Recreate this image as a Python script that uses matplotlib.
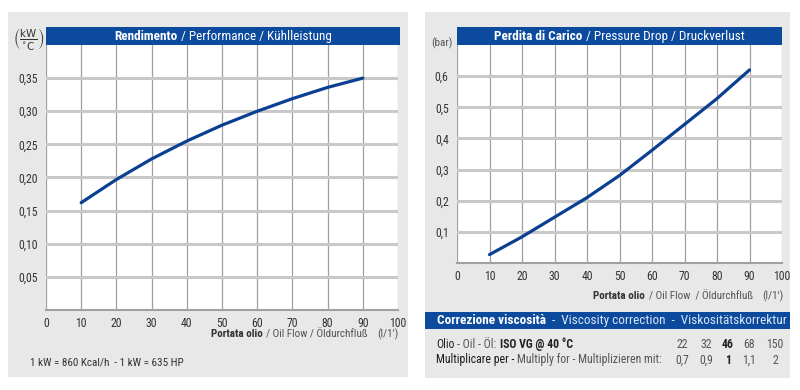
import matplotlib
matplotlib.use("Agg")
import matplotlib.pyplot as plt
from matplotlib import font_manager
from matplotlib.patches import Rectangle
from matplotlib.ticker import FuncFormatter

# values
flow = [10, 20, 30, 40, 50, 60, 70, 80, 90]
performance = [0.162, 0.197, 0.228, 0.255, 0.279, 0.300, 0.319, 0.336, 0.350]
pressure_drop = [0.027, 0.084, 0.147, 0.210, 0.281, 0.362, 0.445, 0.528, 0.620]
flow_ticks = [0, 10, 20, 30, 40, 50, 60, 70, 80, 90, 100]
perf_ticks = [0.05, 0.10, 0.15, 0.20, 0.25, 0.30, 0.35]
drop_ticks = [0.1, 0.2, 0.3, 0.4, 0.5, 0.6]
iso_vg = ["22", "32", "46", "68", "150"]
multiplier = ["0,7", "0,9", "1", "1,1", "2"]
reference_grade = "46"

W, H = 800, 390
BG = "#e8e8e8"
BAND = "#0c4a9e"
LINE = "#0b3f91"
INK = "#333333"
SOFT = "#555555"

available = {f.name for f in font_manager.fontManager.ttflist}
FONT = next((f for f in ["Liberation Sans Narrow", "Roboto Condensed", "DejaVu Sans"]
             if f in available), "DejaVu Sans")
plt.rcParams["font.family"] = [FONT, "DejaVu Sans"]

fig = plt.figure(figsize=(8, 3.9), dpi=100)
renderer = fig.canvas.get_renderer()


def box(x0, y0, x1, y1):
    return [x0 / W, 1 - y1 / H, (x1 - x0) / W, (y1 - y0) / H]


def rect(x0, y0, x1, y1, color):
    fig.add_artist(Rectangle((x0 / W, 1 - y1 / H), (x1 - x0) / W, (y1 - y0) / H,
                             transform=fig.transFigure, facecolor=color,
                             edgecolor="none", zorder=0))


def rich(x, y, parts, size, ha="left", gap=4):
    """Lay out (text, weight, color) runs side by side on one baseline."""
    texts = [fig.text(0, 0, s, fontsize=size, fontweight=wt, color=c, va="center")
             for s, wt, c in parts]
    widths = [t.get_window_extent(renderer).width for t in texts]
    total = sum(widths) + gap * (len(texts) - 1)
    start = {"left": x, "center": x - total / 2, "right": x - total}[ha]
    for t, w in zip(texts, widths):
        t.set_position((start / W, 1 - y / H))
        start += w + gap


def comma(fmt):
    return FuncFormatter(lambda v, _: fmt.format(v).replace(".", ","))


def chart(x0, x1, bottom, top, ylim, yticks, yfmt, xs, ys):
    ax = fig.add_axes(box(x0, top, x1, bottom))
    ax.plot(xs, ys, color=LINE, lw=2.3, solid_capstyle="round",
            solid_joinstyle="round", zorder=3)
    ax.set_xlim(0, 100)
    ax.set_ylim(0, ylim)
    ax.set_xticks(flow_ticks)
    ax.set_yticks(yticks)
    ax.yaxis.set_major_formatter(comma(yfmt))
    ax.grid(axis="x", color="#a0a0a0", lw=0.9)
    ax.grid(axis="y", color="#c8c8c8", lw=2.2)
    ax.tick_params(length=0, labelsize=8.5, labelcolor=INK, pad=6)
    ax.tick_params(axis="x", pad=5)
    for name, spine in ax.spines.items():
        spine.set_visible(name == "bottom")
    ax.spines["bottom"].set_color("#a0a0a0")
    ax.spines["bottom"].set_linewidth(1.5)
    return ax


# left panel: performance
rect(8, 12, 408, 377, BG)
chart(46, 398, 310, 45, 0.40, perf_ticks, "{:.2f}", flow, performance)
rect(46, 27, 400, 45, BAND)
rich(223, 36.5, [("Rendimento", "bold", "white"),
                 ("/ Performance / Kühlleistung", "normal", "white")], 9.5, "center")
fig.text(29 / W, 1 - 40 / H, r"$\left(\frac{\mathrm{kW}}{^{\circ}\mathrm{C}}\right)$",
         fontsize=10.5, color=INK, ha="center", va="center")
rich(368, 334, [("Portata olio", "bold", INK),
                ("/ Oil Flow / Öldurchfluß", "normal", SOFT)], 8, "right")
fig.text(388 / W, 1 - 334 / H, "(l/1')", fontsize=8, color=SOFT, ha="center", va="center")
fig.text(30 / W, 1 - 362 / H, "1 kW = 860 Kcal/h  - 1 kW = 635 HP", fontsize=8,
         color=INK, va="center")

# right panel: pressure drop
rect(425, 12, 790, 378, BG)
chart(457, 782, 263, 45, 0.70, drop_ticks, "{:.1f}", flow, pressure_drop)
rect(457, 27, 782, 45, BAND)
rich(619.5, 36.5, [("Perdita di Carico", "bold", "white"),
                   ("/ Pressure Drop / Druckverlust", "normal", "white")], 9.5, "center")
fig.text(442 / W, 1 - 43 / H, "(bar)", fontsize=8, color=SOFT, ha="center", va="center")
rich(753, 296, [("Portata olio", "bold", INK),
                ("/ Oil Flow  / Öldurchfluß", "normal", SOFT)], 8, "right")
fig.text(773 / W, 1 - 296 / H, "(l/1')", fontsize=8, color=SOFT, ha="center", va="center")

# viscosity correction table
rect(425, 312, 790, 329, BAND)
rich(437, 320.5, [("Correzione viscosità", "bold", "white"),
                  ("-  Viscosity correction  -  Viskositätskorrektur", "normal", "#dbe6f7")],
     9.5, "left", gap=6)
rich(436, 344, [("Olio", "normal", "#222222"), ("- Oil - Öl:", "normal", SOFT),
                ("ISO VG @ 40 °C", "bold", "#222222")], 8.5, gap=3)
rich(436, 360, [("Multiplicare per -", "normal", "#1a1a1a"),
                ("Multiply for - Multiplizieren mit:", "normal", SOFT)], 8.5, gap=3)
for cx, grade, mult in zip([682, 706, 728, 749, 775], iso_vg, multiplier):
    wt = "bold" if grade == reference_grade else "normal"
    ink = "#222222" if grade == reference_grade else SOFT
    fig.text(cx / W, 1 - 344 / H, grade, fontsize=8.5, color=ink, ha="center",
             va="center", fontweight=wt)
    fig.text(cx / W, 1 - 360 / H, mult, fontsize=8.5, color=ink, ha="center",
             va="center", fontweight=wt)

fig.savefig("out.png", dpi=100, facecolor="white")
